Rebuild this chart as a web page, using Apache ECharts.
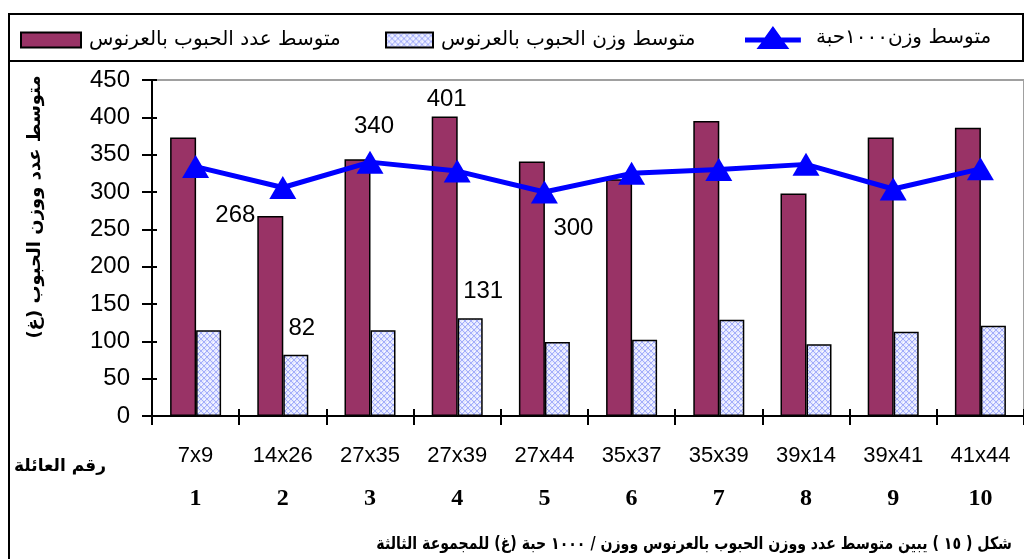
<!DOCTYPE html>
<html>
<head>
<meta charset="utf-8">
<script src="https://cdn.jsdelivr.net/npm/echarts@6/dist/echarts.min.js"></script>
<style>html,body{margin:0;padding:0;background:#fff}#c{width:1024px;height:559px}</style>
</head>
<body>
<div id="c"></div>
<script>
const categories = ['7x9','14x26','27x35','27x39','27x44','35x37','35x39','39x14','39x41','41x44'];
const familyNumbers = ['1','2','3','4','5','6','7','8','9','10'];
const grainCount = [373, 268, 344, 401, 341, 317, 395, 298, 373, 386];
const grainWeight = [115, 82, 115, 131, 99, 102, 129, 96, 113, 121];
const weight1000 = [334, 306, 340, 328, 300, 325, 330, 337, 304, 331];
const yTicks = {min: 0, max: 450, interval: 50};
const seriesNames = ['متوسط عدد الحبوب بالعرنوس', 'متوسط وزن الحبوب بالعرنوس', 'متوسط وزن١٠٠٠حبة'];
const yTitle = 'متوسط عدد ووزن الحبوب (غ)';
const xTitle = 'رقم العائلة';
const caption = 'شكل ( ١٥ ) يبين متوسط عدد ووزن الحبوب بالعرنوس ووزن / ١٠٠٠ حبة (غ) للمجموعة الثالثة';

// label placements (index -> [position, dx, dy])
const countLabels = {1: ['top', -35, 11], 3: ['top', 2, -5]};
const weightLabels = {1: ['top', 6, -14], 3: ['top', 13, -15]};
const lineLabels = {2: ['top', 4, -7], 4: ['bottom', 29, 8]};

function mkPattern() {
  const c = document.createElement('canvas');
  c.width = 6; c.height = 6;
  const g = c.getContext('2d');
  g.fillStyle = '#e4e7ff'; g.fillRect(0,0,6,6);
  g.strokeStyle = '#a3adfa'; g.lineWidth = 1;
  g.beginPath(); g.moveTo(0,0); g.lineTo(6,6); g.moveTo(6,0); g.lineTo(0,6); g.stroke();
  g.fillStyle = '#ffffff'; g.fillRect(3,0,1,1); g.fillRect(0,3,1,1);
  return c;
}
const pat = {image: mkPattern(), repeat: 'repeat'};

function withLabels(values, map) {
  return values.map((v, i) => {
    const m = map[i];
    if (!m) return v;
    return {value: v, label: {show: true, position: m[0], offset: [m[1], m[2]]}};
  });
}

const labelText = {color: '#000', fontFamily: 'Liberation Sans, Arial, sans-serif', fontSize: 24};

const chart = echarts.init(document.getElementById('c'), null, {renderer: 'canvas'});
const legendBase = {itemGap: 0, textStyle: {fontSize: 20, color: '#000', fontFamily: 'DejaVu Sans, sans-serif', padding: [0,0,0,3]}, selectedMode: false, padding: 0};
chart.setOption({
  animation: false,
  backgroundColor: '#fff',
  legend: [
    Object.assign({}, legendBase, {left: 20, top: 30, data: [{name: seriesNames[0], icon: 'rect'}], itemWidth: 60, itemHeight: 15}),
    Object.assign({}, legendBase, {left: 385, top: 30, data: [{name: seriesNames[1], icon: 'rect'}], itemWidth: 47, itemHeight: 15}),
    Object.assign({}, legendBase, {left: 745, top: 26, data: [{name: seriesNames[2], icon: 'path://M0,7 L12,7 L17,0 L22,7 L34,7 L34,10 L24,10 L27,14 L7,14 L10,10 L0,10 Z'}], itemWidth: 70, itemHeight: 23})
  ],
  grid: {left: 152, top: 80, width: 881, bottom: 143, show: true, borderColor: '#a0a0a0', borderWidth: 2, backgroundColor: 'transparent'},
  xAxis: [
    {type: 'category', data: categories, position: 'bottom',
     axisLine: {lineStyle: {color: '#000', width: 2}},
     axisTick: {show: true, length: 9, lineStyle: {color: '#000', width: 2}},
     axisLabel: {color: '#000', fontSize: 22, fontFamily: 'Liberation Sans, Arial, sans-serif', margin: 29}},
    {type: 'category', data: familyNumbers, position: 'bottom',
     axisLine: {show: false},
     axisTick: {show: true, inside: true, length: 7, lineStyle: {color: '#000', width: 2}},
     axisLabel: {color: '#000', fontSize: 24, fontWeight: 'bold', fontFamily: 'Liberation Serif, Times New Roman, serif', margin: 71}}
  ],
  yAxis: [
    {type: 'value', min: yTicks.min, max: yTicks.max, interval: yTicks.interval,
     axisLine: {show: true, lineStyle: {color: '#000', width: 2}},
     axisTick: {show: true, length: 10, lineStyle: {color: '#000', width: 2}},
     axisLabel: {color: '#000', fontSize: 24, fontFamily: 'Liberation Sans, Arial, sans-serif', margin: 22},
     splitLine: {show: false}},
    {type: 'value', min: yTicks.min, max: yTicks.max, interval: yTicks.interval, position: 'left',
     axisLine: {show: false},
     axisTick: {show: true, inside: true, length: 5, lineStyle: {color: '#000', width: 2}},
     axisLabel: {show: false}, splitLine: {show: false}}
  ],
  series: [
    {name: seriesNames[0], type: 'bar', data: withLabels(grainCount, countLabels), barWidth: 26, barGap: '0%',
     itemStyle: {color: '#993366', borderColor: '#000', borderWidth: 1.5},
     label: Object.assign({show: false, distance: 0}, labelText)},
    {name: seriesNames[1], type: 'bar', data: withLabels(grainWeight, weightLabels), barWidth: 25, barGap: '0%',
     itemStyle: {color: pat, borderColor: '#000', borderWidth: 1.5},
     label: Object.assign({show: false, distance: 0}, labelText)},
    {name: seriesNames[2], type: 'line', data: withLabels(weight1000, lineLabels), symbol: 'triangle', symbolSize: [27, 23],
     itemStyle: {color: '#0000ff'}, lineStyle: {color: '#0000ff', width: 5}, z: 5,
     label: Object.assign({show: false}, labelText)}
  ],
  graphic: [
    {type: 'rect', shape: {x: 9, y: 14, width: 1014, height: 47}, style: {fill: 'none', stroke: '#000', lineWidth: 2}, silent: true},
    {type: 'line', shape: {x1: 9, y1: 60, x2: 9, y2: 559}, style: {stroke: '#000', lineWidth: 2}, silent: true},
    {type: 'text', x: 35, y: 207, rotation: Math.PI / 2, style: {text: yTitle, fontSize: 18, fontWeight: 'bold', fontFamily: 'DejaVu Sans, sans-serif', fill: '#000', align: 'center', verticalAlign: 'middle'}},
    {type: 'text', x: 60, y: 467, style: {text: xTitle, fontSize: 17, fontWeight: 'bold', fontFamily: 'DejaVu Sans, sans-serif', fill: '#000', align: 'center', verticalAlign: 'middle'}},
    {type: 'text', x: 1012, y: 545, scaleX: 0.83, style: {text: caption, fontSize: 17, fontWeight: 'bold', fontFamily: 'DejaVu Sans, sans-serif', fill: '#000', align: 'right', verticalAlign: 'middle'}}
  ]
});
</script>
</body>
</html>
